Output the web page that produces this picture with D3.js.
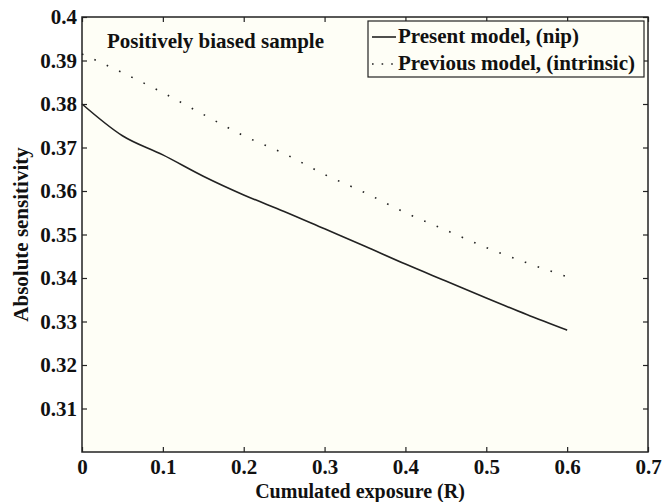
<!DOCTYPE html>
<html>
<head>
<meta charset="utf-8">
<script src="https://cdn.jsdelivr.net/npm/d3@7"></script>
<style>
    body { margin: 0; background: #ffffff; }
</style>
</head>
<body>
<svg id="chart"></svg>
<script>
// Values
const exposure = [0, 0.05, 0.1, 0.15, 0.2, 0.25, 0.3, 0.35, 0.4, 0.45, 0.5, 0.55, 0.6];
const presentModel = [0.380, 0.3727, 0.3683, 0.3634, 0.3591, 0.3553, 0.3513, 0.3473, 0.3432, 0.3393, 0.3354, 0.3316, 0.3280];
const previousModel = [0.3915, 0.3872, 0.3826, 0.3776, 0.3727, 0.3686, 0.3638, 0.3596, 0.3550, 0.3510, 0.3470, 0.3435, 0.3403];
const xTicks = [0, 0.1, 0.2, 0.3, 0.4, 0.5, 0.6, 0.7];
const yTicks = [0.31, 0.32, 0.33, 0.34, 0.35, 0.36, 0.37, 0.38, 0.39, 0.4];
const legendLabels = ['Present model, (nip)', 'Previous model, (intrinsic)'];

const W = 664, H = 502;
const m = {left: 82, right: 16, top: 17, bottom: 50};
const FONT = 'Liberation Serif, serif';

const svg = d3.select('#chart').attr('width', W).attr('height', H);

const x = d3.scaleLinear().domain([0, 0.7]).range([m.left, W - m.right]);
const y = d3.scaleLinear().domain([0.3, 0.4]).range([H - m.bottom, m.top]);

// plot background (slightly cream like the scan)
svg.append('rect')
    .attr('x', x(0)).attr('y', y(0.4))
    .attr('width', x(0.7) - x(0)).attr('height', y(0.3) - y(0.4))
    .attr('fill', '#fefef6');

// little helper so every text gets the same look
function styleText(sel, size) {
    sel.attr('font-family', FONT)
        .attr('font-weight', 'bold')
        .attr('font-size', size)
        .attr('fill', '#111');
}

// axes, ticks pointing inward, mirrored on top and right
const tickLen = 5;
svg.append('g')
    .attr('transform', `translate(0,${y(0.3)})`)
    .call(d3.axisBottom(x).tickValues(xTicks).tickSize(-tickLen).tickPadding(7).tickFormat(d3.format('')))
    .call(g => g.select('.domain').remove())
    .selectAll('text').call(styleText, 21);
svg.append('g')
    .attr('transform', `translate(0,${y(0.4)})`)
    .call(d3.axisTop(x).tickValues(xTicks).tickSize(-tickLen).tickFormat(''))
    .call(g => g.select('.domain').remove());
svg.append('g')
    .attr('transform', `translate(${x(0)},0)`)
    .call(d3.axisLeft(y).tickValues(yTicks).tickSize(-tickLen).tickPadding(5).tickFormat(d3.format('')))
    .call(g => g.select('.domain').remove())
    .selectAll('text').call(styleText, 21);
svg.append('g')
    .attr('transform', `translate(${x(0.7)},0)`)
    .call(d3.axisRight(y).tickValues(yTicks).tickSize(-tickLen).tickFormat(''))
    .call(g => g.select('.domain').remove());

svg.selectAll('.tick line').attr('stroke', '#222').attr('stroke-width', 1.2);

// frame
svg.append('rect')
    .attr('x', x(0)).attr('y', y(0.4))
    .attr('width', x(0.7) - x(0)).attr('height', y(0.3) - y(0.4))
    .attr('fill', 'none').attr('stroke', '#222').attr('stroke-width', 1.5);

// curves
const line = d3.line()
    .x((d, i) => x(exposure[i]))
    .y(d => y(d))
    .curve(d3.curveMonotoneX);

svg.append('path')
    .datum(previousModel)
    .attr('d', line)
    .attr('fill', 'none')
    .attr('stroke', '#222')
    .attr('stroke-width', 1.6)
    .attr('stroke-dasharray', '1.6,12');

svg.append('path')
    .datum(presentModel)
    .attr('d', line)
    .attr('fill', 'none')
    .attr('stroke', '#222')
    .attr('stroke-width', 1.6);

// annotation
svg.append('text')
    .attr('x', 107).attr('y', 48)
    .call(styleText, 21)
    .text('Positively biased sample');

// axis labels
svg.append('text')
    .attr('x', (x(0) + x(0.7)) / 2 - 5).attr('y', 498)
    .attr('text-anchor', 'middle')
    .call(styleText, 20)
    .text('Cumulated exposure (R)');
svg.append('text')
    .attr('transform', `translate(28,${(y(0.3) + y(0.4)) / 2}) rotate(-90)`)
    .attr('text-anchor', 'middle')
    .call(styleText, 21)
    .text('Absolute sensitivity');

// legend
const lg = svg.append('g').attr('transform', 'translate(368,21)');
lg.append('rect')
    .attr('width', 276).attr('height', 56)
    .attr('fill', '#fefef6').attr('stroke', '#222').attr('stroke-width', 1.2);
legendLabels.forEach(function(lab, i) {
    const yy = 16 + i * 27;
    lg.append('line')
        .attr('x1', 4).attr('x2', 28).attr('y1', yy).attr('y2', yy)
        .attr('stroke', '#222').attr('stroke-width', 1.6)
        .attr('stroke-dasharray', i === 1 ? '1.6,8' : null);
    lg.append('text')
        .attr('x', 30).attr('y', yy + 6)
        .call(styleText, 21)
        .text(lab);
});
</script>
</body>
</html>
